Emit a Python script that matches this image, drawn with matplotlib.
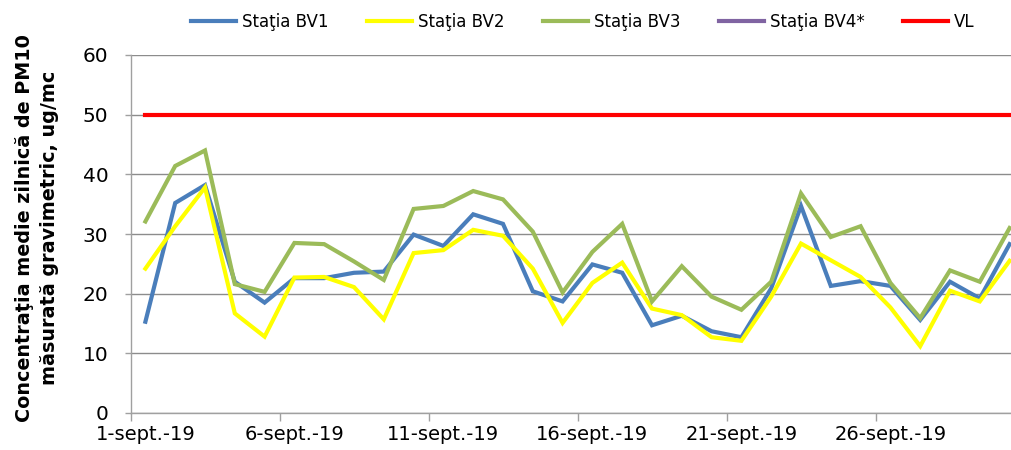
import matplotlib
matplotlib.use("Agg")
import matplotlib.pyplot as plt

# ---- data ----
days = list(range(1, 31))
tick_days = [1, 6, 11, 16, 21, 26]
tick_labels = ["1-sept.-19", "6-sept.-19", "11-sept.-19", "16-sept.-19", "21-sept.-19", "26-sept.-19"]

bv1 = [15.3, 35.2, 38.2, 22.0, 18.5, 22.6, 22.6, 23.5, 23.7, 29.9,
       28.0, 33.3, 31.7, 20.4, 18.7, 24.9, 23.5, 14.7, 16.3, 13.7,
       12.7, 20.9, 34.7, 21.3, 22.1, 21.3, 15.6, 22.0, 19.2, 28.3]
bv2 = [24.2, 31.3, 37.8, 16.7, 12.8, 22.7, 22.8, 21.1, 15.7, 26.8,
       27.3, 30.7, 29.7, 24.2, 15.1, 21.8, 25.2, 17.5, 16.4, 12.7,
       12.1, 19.5, 28.4, 25.6, 22.8, 17.7, 11.2, 20.5, 18.7, 25.5]
bv3 = [32.1, 41.4, 44.0, 21.6, 20.3, 28.5, 28.3, 25.4, 22.3, 34.2,
       34.7, 37.2, 35.8, 30.4, 20.2, 27.0, 31.7, 18.7, 24.6, 19.5,
       17.3, 22.0, 36.8, 29.5, 31.3, 21.8, 15.9, 23.9, 22.0, 31.0]
bv4 = []  # no data reported for BV4*
vl = [50] * 30

series_names = ["Staţia BV1", "Staţia BV2", "Staţia BV3", "Staţia BV4*", "VL"]
colors = ["#4A7EBB", "#FFFF00", "#9BBB59", "#8064A2", "#FF0000"]

plt.rcParams['font.family'] = ['DejaVu Sans']

W, H = 1011, 450
fig = plt.figure(figsize=(W / 100, H / 100), dpi=100)
left_px, right_px = 130.5, 1024.5
bottom_px, top_px = 413, 55
ax = fig.add_axes([left_px / W, (H - bottom_px) / H,
                   (right_px - left_px) / W, (bottom_px - top_px) / H])

lw = 3.0
ax.plot(days, bv1, color=colors[0], lw=lw, label=series_names[0], solid_joinstyle='miter')
ax.plot(days, bv2, color=colors[1], lw=lw, label=series_names[1], solid_joinstyle='miter')
ax.plot(days, bv3, color=colors[2], lw=lw, label=series_names[2], solid_joinstyle='miter')
ax.plot(days[:len(bv4)], bv4, color=colors[3], lw=lw, label=series_names[3])
ax.plot(days, vl, color=colors[4], lw=lw, label=series_names[4])

ax.set_xlim(0.5, 30.5)
ax.set_ylim(0, 60)
ax.set_yticks(range(0, 61, 10))
ax.grid(axis='y', color='#8C8C8C', lw=1.0)
ax.set_axisbelow(True)

# category boundaries as tick marks, labels at category centres
ax.set_xticks([0.5 + 5 * k for k in range(7)])
ax.set_xticklabels([])
ax.set_xticks(tick_days, minor=True)
ax.set_xticklabels(tick_labels, minor=True)
ax.tick_params(axis='x', which='major', length=6, width=1, color='#A0A0A0')
ax.tick_params(axis='x', which='minor', length=0, pad=9, labelsize=14)
ax.tick_params(axis='y', length=4, width=1, color='#A0A0A0', pad=12, labelsize=14.5)

for s in ['top', 'right']:
    ax.spines[s].set_visible(False)
for s in ['left', 'bottom']:
    ax.spines[s].set_color('#A0A0A0')
    ax.spines[s].set_linewidth(1)

fig.text(37 / W, 1 - 228 / H,
         "Concentraţia medie zilnică de PM10\nmăsurată gravimetric, ug/mc",
         rotation=90, ha='center', va='center', multialignment='center',
         fontsize=13.8, fontweight='bold', linespacing=1.4)

fig.legend(loc='center', bbox_to_anchor=(583 / W, 1 - 22 / H), ncol=5,
           frameon=False, fontsize=12, handlelength=2.7, handletextpad=0.36,
           columnspacing=2.3, borderaxespad=0, borderpad=0)

fig.savefig("out.png", dpi=100)
